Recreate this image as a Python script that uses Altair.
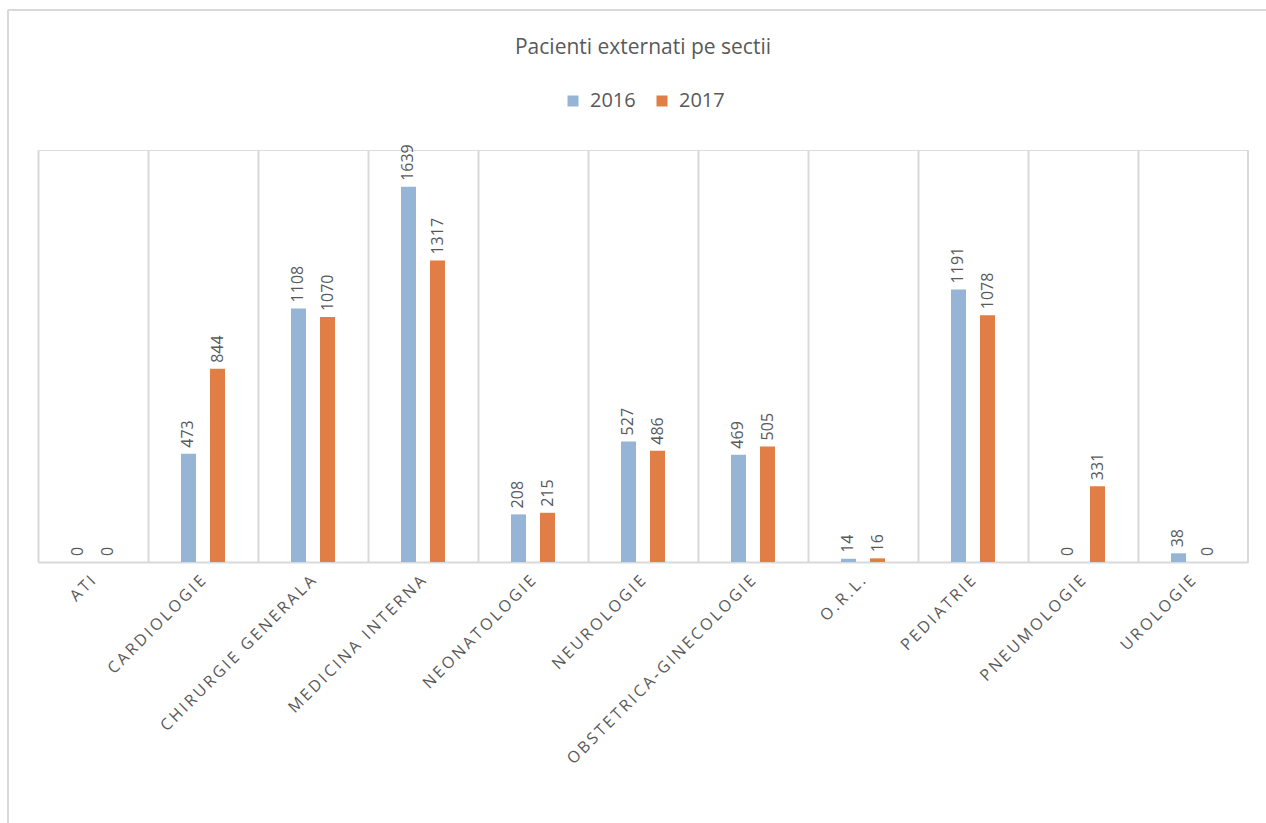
import altair as alt
import pandas as pd

# Discharged patients per hospital ward, 2016 vs 2017
sectii = [
    "ATI", "CARDIOLOGIE", "CHIRURGIE GENERALA", "MEDICINA INTERNA",
    "NEONATOLOGIE", "NEUROLOGIE", "OBSTETRICA-GINECOLOGIE", "O.R.L.",
    "PEDIATRIE", "PNEUMOLOGIE", "UROLOGIE",
]
valori_2016 = [0, 473, 1108, 1639, 208, 527, 469, 14, 1191, 0, 38]
valori_2017 = [0, 844, 1070, 1317, 215, 486, 505, 16, 1078, 331, 0]
ani = ["2016", "2017"]
culori = ["#95B4D6", "#E07E45"]

rows = []
for s, a, b in zip(sectii, valori_2016, valori_2017):
    rows.append({"Sectie": s, "An": "2016", "Valoare": a})
    rows.append({"Sectie": s, "An": "2017", "Valoare": b})
df = pd.DataFrame(rows)

W, H = 1210, 412
GRAY = "#595959"
LINE = "#D9D9D9"
FONT = "Open Sans"
THIN = "\u2009"  # widens the tracking of the ward names

x_enc = alt.X(
    "Sectie:N", sort=sectii, title=None,
    scale=alt.Scale(paddingInner=0, paddingOuter=0),
    axis=alt.Axis(
        grid=True, bandPosition=0, gridColor=LINE, gridWidth=2,
        domainColor=LINE, domainWidth=2, ticks=False,
        labelAngle=-45, labelAlign="right", labelBaseline="middle",
        labelFontSize=16, labelColor=GRAY, labelFont=FONT, labelPadding=16,
        labelLimit=0, labelExpr=f"join(split(datum.label, ''), '{THIN}')",
    ),
)
# two bars per ward, 15 px wide, centred in each 110 px band
xoff = alt.XOffset(
    "An:N", sort=ani,
    scale=alt.Scale(range=[33, 77], paddingInner=0.483, paddingOuter=0),
)
y_enc = alt.Y("Valoare:Q", scale=alt.Scale(domain=[0, 1800]), axis=None)

bars = alt.Chart(df).mark_bar().encode(
    x=x_enc,
    xOffset=xoff,
    y=y_enc,
    color=alt.Color(
        "An:N", sort=ani,
        scale=alt.Scale(domain=ani, range=culori),
        legend=alt.Legend(
            title=None, orient="none", legendX=525, legendY=-59,
            direction="horizontal", symbolType="square", symbolSize=121,
            symbolStrokeWidth=0, labelFontSize=20, labelColor=GRAY,
            labelFont=FONT, columnPadding=16, labelOffset=7,
        ),
    ),
)

labels = alt.Chart(df).mark_text(
    angle=270, align="left", baseline="middle", dx=6,
    fontSize=16, color=GRAY, font=FONT,
).encode(
    x=alt.X("Sectie:N", sort=sectii),
    xOffset=alt.XOffset("An:N", sort=ani),
    y=alt.Y("Valoare:Q"),
    text=alt.Text("Valoare:Q"),
)

one = pd.DataFrame({"k": [0]})
right_edge = alt.Chart(one).mark_rule(color=LINE, strokeWidth=2).encode(
    x=alt.value(W), y=alt.value(0), y2=alt.value(H)
)
frame_top = alt.Chart(one).mark_rule(color=LINE, strokeWidth=2).encode(
    x=alt.value(-30), x2=alt.value(W + 40), y=alt.value(-140)
)
frame_left = alt.Chart(one).mark_rule(color=LINE, strokeWidth=2).encode(
    x=alt.value(-30), y=alt.value(-140), y2=alt.value(H + 270)
)

chart = (
    alt.layer(bars, labels, right_edge, frame_top, frame_left)
    .properties(
        width=W, height=H,
        autosize=alt.AutoSizeParams(type="none"),
        padding={"left": 38, "top": 150, "right": 18, "bottom": 261},
        title=alt.TitleParams(
            "Pacienti externati pe sectii", fontSize=21, color=GRAY,
            font=FONT, fontWeight="normal", anchor="middle", frame="group",
            offset=0, dy=49,
        ),
    )
    .configure_view(stroke=None)
    .configure(background="white")
)

chart.save("out.html", embed_options={"renderer": "svg", "actions": False})
